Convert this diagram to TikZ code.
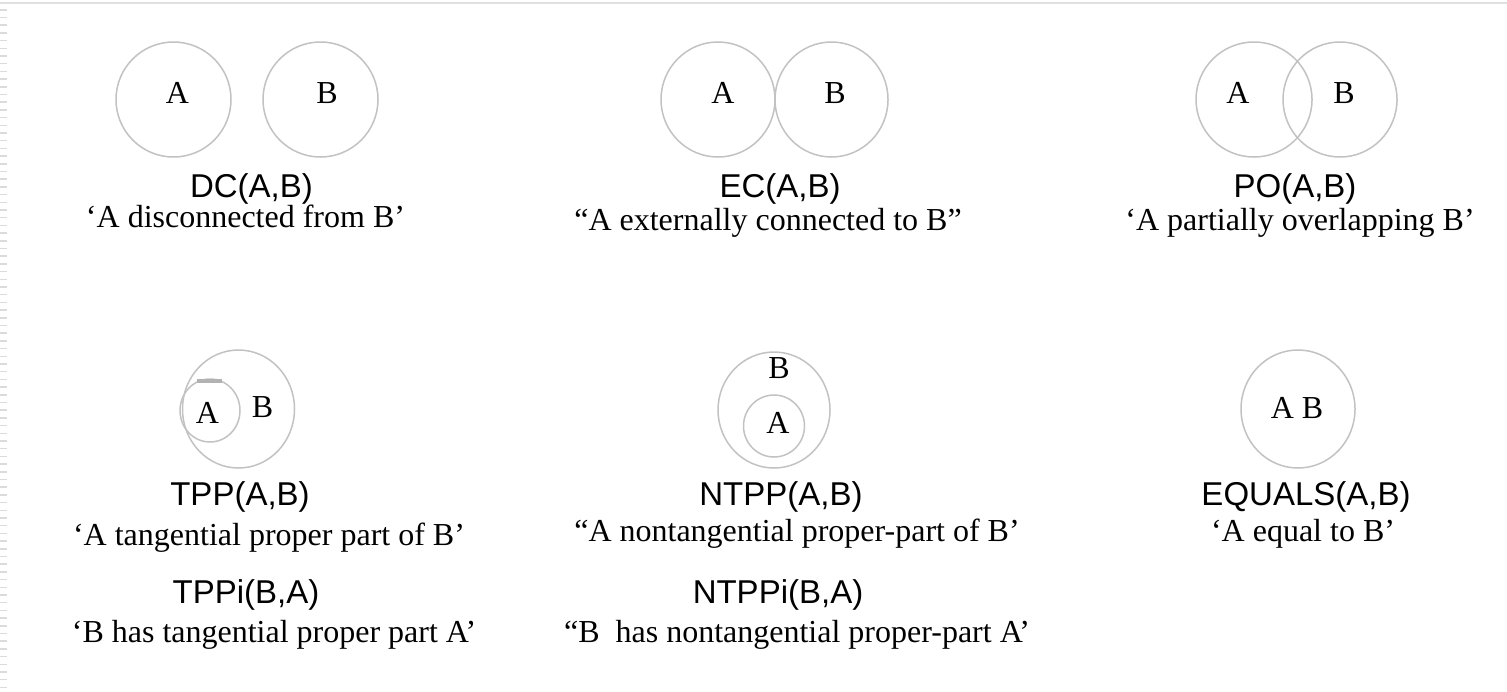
\documentclass[tikz,border=0pt]{standalone}
\usepackage{fontspec}
\setmainfont{Liberation Serif}
\newfontfamily\sansf{Liberation Sans}
\usetikzlibrary{shapes.geometric}
\tikzset{
  reg/.style={draw=black!24, line width=0.75pt, ellipse, inner sep=0pt, outer sep=0pt},
  lbl/.style={anchor=base, inner sep=0pt, font=\fontsize{16}{19}\selectfont},
  rel/.style={anchor=base, inner sep=0pt, font=\sansf\fontsize{16.5}{19}\selectfont},
  gloss/.style={anchor=base, inner sep=0pt, font=\fontsize{16}{19}\selectfont},
}
\begin{document}
\begin{tikzpicture}[x=0.5pt,y=-0.5pt]
\useasboundingbox (0,0) rectangle (1507,691);
% frame remnants
\draw[black!12, line width=1.2pt] (0,3) -- (1507,3);
\draw[black!14, line width=3.5pt, dash pattern=on 0.75pt off 3.1pt] (3.5,9) -- (3.5,691);

% ---------- DC ----------
\node[reg, minimum width=57.5pt, minimum height=57.5pt] (dcA) at (173.5,99.5) {};
\node[reg, minimum width=57.5pt, minimum height=57.5pt] (dcB) at (320.5,99.5) {};
\node[lbl] (dcAl) at (177.5,103) {A};
\node[lbl] (dcBl) at (327,103) {B};
\node[rel] (dcR) at (251.5,197) {DC(A,B)};
\node[gloss] (dcG) at (245.5,227) {‘A disconnected from B’};

% ---------- EC ----------
\node[reg, minimum width=57pt, minimum height=57.5pt] (ecA) at (718,99.5) {};
\node[reg, minimum width=56.5pt, minimum height=57.5pt] (ecB) at (831.5,99.5) {};
\node[lbl] (ecAl) at (723,103) {A};
\node[lbl] (ecBl) at (835,103) {B};
\node[rel] (ecR) at (780,197) {EC(A,B)};
\node[gloss] (ecG) at (768,230) {“A externally connected to B”};

% ---------- PO ----------
\node[reg, minimum width=58pt, minimum height=57.5pt] (poA) at (1254,99.5) {};
\node[reg, minimum width=57pt, minimum height=57.5pt] (poB) at (1340,99.5) {};
\node[lbl] (poAl) at (1238,103) {A};
\node[lbl] (poBl) at (1344,103) {B};
\node[rel] (poR) at (1295,197) {PO(A,B)};
\node[gloss] (poG) at (1300,230) {‘A partially overlapping B’};

% ---------- TPP ----------
\node[reg, minimum width=56pt, minimum height=59pt] (tpB) at (238.5,409) {};
\node[reg, minimum width=30pt, minimum height=31.5pt] (tpA) at (210,410.5) {};
\draw[black!30, line width=1.8pt] (197,381) -- (222,381);
\node[lbl] (tpAl) at (207.5,423) {A};
\node[lbl] (tpBl) at (262.5,417) {B};
\node[rel] (tpR) at (240,505) {TPP(A,B)};
\node[gloss] (tpG) at (269,545) {‘A tangential proper part of B’};
\node[rel] (tpiR) at (246,603) {TPPi(B,A)};
\node[gloss] (tpiG) at (274,642) {‘B has tangential proper part A’};

% ---------- NTPP ----------
\node[reg, minimum width=56pt, minimum height=58pt] (ntB) at (774,410) {};
\node[reg, minimum width=30.5pt, minimum height=31pt] (ntA) at (774,426) {};
\node[lbl] (ntBl) at (779,378) {B};
\node[lbl] (ntAl) at (778,433) {A};
\node[rel] (ntR) at (781,505) {NTPP(A,B)};
\node[gloss] (ntG) at (797,541) {“A nontangential proper-part of B’};
\node[rel] (ntiR) at (778,603) {NTPPi(B,A)};
\node[gloss] (ntiG) at (797,642) {“B\ \ has nontangential proper-part A’};

% ---------- EQUALS ----------
\node[reg, minimum width=57pt, minimum height=59pt] (eqAB) at (1298,409) {};
\node[lbl] (eql) at (1297,418) {A B};
\node[rel] (eqR) at (1306,505) {EQUALS(A,B)};
\node[gloss] (eqG) at (1303,541) {‘A equal to B’};
\end{tikzpicture}
\end{document}
